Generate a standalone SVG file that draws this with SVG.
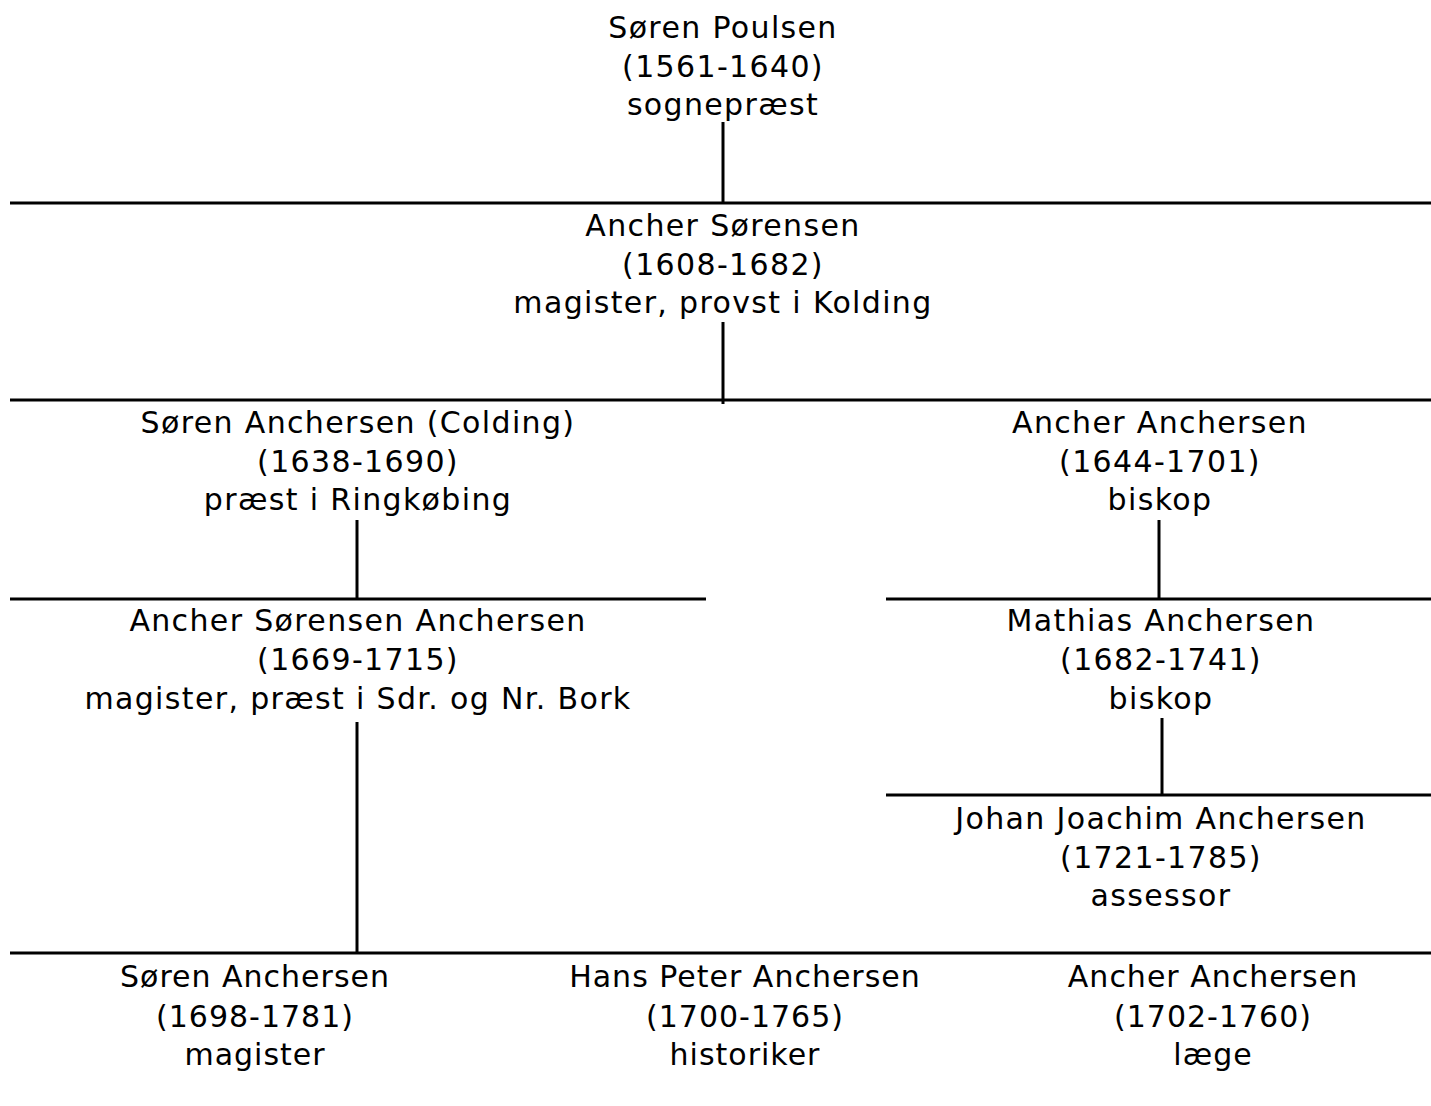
<svg xmlns="http://www.w3.org/2000/svg" width="1431" height="1106" viewBox="0 0 1431 1106">
<style>
text{font-family:"DejaVu Sans",Verdana,sans-serif;font-size:30px;fill:#000;text-anchor:middle;letter-spacing:1.35px}
.b text{letter-spacing:1px}
line{stroke:#000;stroke-width:3}
</style>
<rect width="1431" height="1106" fill="#fff"/>
<g id="connectors">
<line x1="723" y1="122" x2="723" y2="203"/>
<line x1="10" y1="203" x2="1431" y2="203"/>
<line x1="723" y1="322" x2="723" y2="404"/>
<line x1="10" y1="400" x2="1431" y2="400"/>
<line x1="357" y1="520" x2="357" y2="599"/>
<line x1="10" y1="599" x2="706" y2="599"/>
<line x1="1159" y1="520" x2="1159" y2="599"/>
<line x1="886" y1="599" x2="1431" y2="599"/>
<line x1="1162" y1="718" x2="1162" y2="795"/>
<line x1="886" y1="795" x2="1431" y2="795"/>
<line x1="357" y1="722" x2="357" y2="953"/>
<line x1="10" y1="953" x2="1431" y2="953"/>
</g>
<g id="soren-poulsen"><text x="723" y="38">Søren Poulsen</text><text x="723" y="77">(1561-1640)</text><text x="723" y="115">sognepræst</text></g>
<g id="ancher-sorensen"><text x="723" y="236">Ancher Sørensen</text><text x="723" y="275">(1608-1682)</text><text x="723" y="313">magister, provst i Kolding</text></g>
<g id="soren-anchersen-colding"><text x="358" y="433">Søren Anchersen (Colding)</text><text x="358" y="472">(1638-1690)</text><text x="358" y="510">præst i Ringkøbing</text></g>
<g id="ancher-anchersen-1644"><text x="1160" y="433">Ancher Anchersen</text><text x="1160" y="472">(1644-1701)</text><text x="1160" y="510">biskop</text></g>
<g id="ancher-sorensen-anchersen"><text x="358" y="631">Ancher Sørensen Anchersen</text><text x="358" y="670">(1669-1715)</text><text x="358" y="709">magister, præst i Sdr. og Nr. Bork</text></g>
<g id="mathias-anchersen"><text x="1161" y="631">Mathias Anchersen</text><text x="1161" y="670">(1682-1741)</text><text x="1161" y="709">biskop</text></g>
<g id="johan-joachim-anchersen"><text x="1161" y="829">Johan Joachim Anchersen</text><text x="1161" y="868">(1721-1785)</text><text x="1161" y="906">assessor</text></g>
<g id="soren-anchersen-1698" class="b"><text x="255" y="987">Søren Anchersen</text><text x="255" y="1027">(1698-1781)</text><text x="255" y="1065">magister</text></g>
<g id="hans-peter-anchersen" class="b"><text x="745" y="987">Hans Peter Anchersen</text><text x="745" y="1027">(1700-1765)</text><text x="745" y="1065">historiker</text></g>
<g id="ancher-anchersen-1702" class="b"><text x="1213" y="987">Ancher Anchersen</text><text x="1213" y="1027">(1702-1760)</text><text x="1213" y="1065">læge</text></g>
</svg>
